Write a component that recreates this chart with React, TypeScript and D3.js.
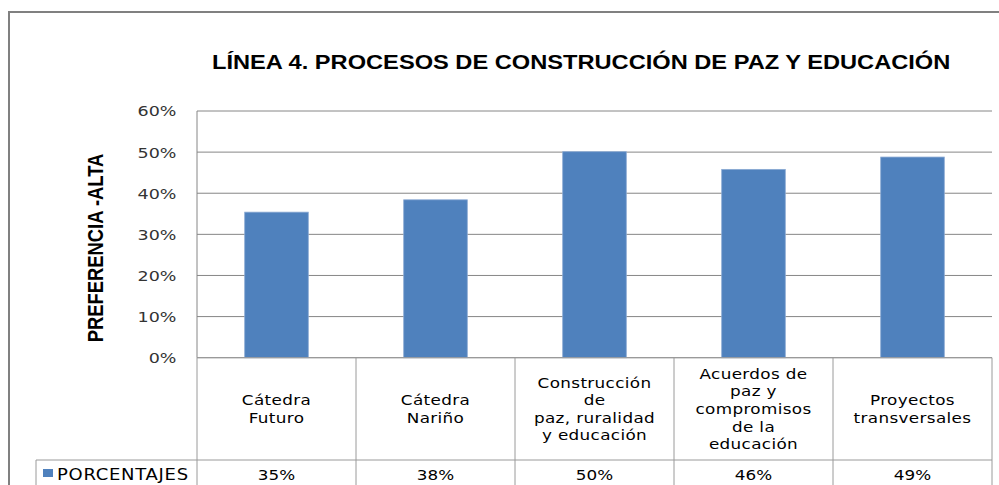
import React, { useEffect, useRef } from 'react';
import * as d3 from 'd3';

const title = 'LÍNEA 4. PROCESOS DE CONSTRUCCIÓN DE PAZ Y EDUCACIÓN';
const yTitle = 'PREFERENCIA -ALTA';
const seriesName = 'PORCENTAJES';

const categories = [
    'Cátedra Futuro',
    'Cátedra Nariño',
    'Construcción de paz, ruralidad y educación',
    'Acuerdos de paz y compromisos de la educación',
    'Proyectos transversales',
];
// how the labels wrap inside the table cells
const categoryLines = [
    ['Cátedra', 'Futuro'],
    ['Cátedra', 'Nariño'],
    ['Construcción', 'de', 'paz, ruralidad', 'y educación'],
    ['Acuerdos de', 'paz y', 'compromisos', 'de la', 'educación'],
    ['Proyectos', 'transversales'],
];
const porcentajes = [0.354, 0.384, 0.501, 0.458, 0.488];
const yTicks = [0, 0.1, 0.2, 0.3, 0.4, 0.5, 0.6];

export default function App() {
    const chartRef = useRef<SVGSVGElement | null>(null);

    const width = 999;
    const height = 485;
    const plot = { left: 197, right: 992, top: 111, bottom: 357.7 };
    const tableRow = 460; // top of the data row of the table
    const legendLeft = 36;
    const SX = 1.2; // the source picture is stretched sideways, so is the text
    const gridColor = '#868686';
    const tableColor = '#9a9a9a';
    const barColor = '#4f81bd';

    useEffect(() => {
        const svg = d3.select(chartRef.current);
        svg.selectAll('*').remove();

        const xScale = d3.scaleBand<string>()
            .domain(categories)
            .range([plot.left, plot.right])
            .padding(0);
        const yScale = d3.scaleLinear()
            .domain([0, 0.6])
            .range([plot.bottom, plot.top]);
        const pct = d3.format('.0%');
        const stretch = (x: number, y: number) => `translate(${x},${y}) scale(${SX},1)`;

        // outer chart border
        svg.append('rect')
            .attr('x', 9)
            .attr('y', 12)
            .attr('width', 1200)
            .attr('height', 800)
            .attr('fill', '#fff')
            .attr('stroke', '#808080')
            .attr('stroke-width', 2);

        // title
        svg.append('text')
            .attr('transform', stretch(212, 69))
            .attr('font-family', '"Liberation Sans", Arial, sans-serif')
            .attr('font-weight', 'bold')
            .attr('font-size', 19.7)
            .attr('fill', '#000')
            .text(title);

        // gridlines
        svg.append('g')
            .selectAll('line')
            .data(yTicks)
            .enter()
            .append('line')
                .attr('x1', plot.left)
                .attr('x2', plot.right)
                .attr('y1', d => yScale(d))
                .attr('y2', d => yScale(d))
                .attr('stroke', gridColor)
                .attr('stroke-width', 1);

        // y axis line
        svg.append('line')
            .attr('x1', plot.left)
            .attr('x2', plot.left)
            .attr('y1', plot.top)
            .attr('y2', plot.bottom)
            .attr('stroke', gridColor);

        // y tick labels
        svg.append('g')
            .selectAll('text')
            .data(yTicks)
            .enter()
            .append('text')
                .attr('transform', d => stretch(176.5, yScale(d) + 5.4))
                .attr('text-anchor', 'end')
                .attr('font-family', '"DejaVu Sans", Verdana, sans-serif')
                .attr('font-size', 14.6)
                .attr('fill', '#333')
                .text(d => pct(d));

        // y axis title
        svg.append('text')
            .attr('transform', `translate(102.5, 248) scale(${SX},1) rotate(-90)`)
            .attr('text-anchor', 'middle')
            .attr('font-family', '"Liberation Sans", Arial, sans-serif')
            .attr('font-weight', 'bold')
            .attr('font-size', 18.4)
            .attr('fill', '#000')
            .text(yTitle);

        // bars
        const barWidth = xScale.bandwidth() * 0.4;
        svg.append('g')
            .selectAll('rect')
            .data(porcentajes)
            .enter()
            .append('rect')
                .attr('x', (d, i) => (xScale(categories[i]) as number) + (xScale.bandwidth() - barWidth) / 2)
                .attr('y', d => yScale(d))
                .attr('width', barWidth)
                .attr('height', d => yScale(0) - yScale(d))
                .attr('fill', barColor)
                .attr('stroke', '#8aa9d3')
                .attr('stroke-width', 0.8);

        // data table lines
        const table = svg.append('g')
            .attr('stroke', tableColor)
            .attr('stroke-width', 1);
        const edges = categories.map(c => xScale(c) as number).concat(plot.right);
        table.selectAll('line.v')
            .data(edges)
            .enter()
            .append('line')
                .attr('class', 'v')
                .attr('x1', d => d)
                .attr('x2', d => d)
                .attr('y1', plot.bottom)
                .attr('y2', height + 10);
        table.append('line')
            .attr('x1', plot.left)
            .attr('x2', plot.right)
            .attr('y1', plot.bottom)
            .attr('y2', plot.bottom);
        table.append('line')
            .attr('x1', legendLeft)
            .attr('x2', plot.right)
            .attr('y1', tableRow)
            .attr('y2', tableRow);
        table.append('line')
            .attr('x1', legendLeft)
            .attr('x2', legendLeft)
            .attr('y1', tableRow)
            .attr('y2', height + 10);

        // category labels
        const lineHeight = 17.6;
        const catG = svg.append('g')
            .attr('font-family', '"DejaVu Sans", Verdana, sans-serif')
            .attr('font-size', 14)
            .attr('fill', '#000');
        categoryLines.forEach((lines, i) => {
            const cx = (xScale(categories[i]) as number) + xScale.bandwidth() / 2;
            const y0 = 414 - (lines.length - 1) * lineHeight / 2;
            lines.forEach((line, j) => {
                catG.append('text')
                    .attr('transform', stretch(cx, y0 + j * lineHeight))
                    .attr('text-anchor', 'middle')
                    .attr('letter-spacing', 0.3)
                    .text(line);
            });
        });

        // legend key + values row
        svg.append('rect')
            .attr('x', 43)
            .attr('y', 469)
            .attr('width', 10)
            .attr('height', 8)
            .attr('fill', barColor);
        svg.append('text')
            .attr('transform', stretch(57, 479.5))
            .attr('font-family', '"DejaVu Sans", Verdana, sans-serif')
            .attr('font-size', 15)
            .attr('letter-spacing', 0.6)
            .attr('fill', '#000')
            .text(seriesName);

        svg.append('g')
            .selectAll('text')
            .data(porcentajes)
            .enter()
            .append('text')
                .attr('transform', (d, i) => stretch((xScale(categories[i]) as number) + xScale.bandwidth() / 2, 480))
                .attr('text-anchor', 'middle')
                .attr('font-family', '"DejaVu Sans", Verdana, sans-serif')
                .attr('font-size', 14)
                .attr('fill', '#000')
                .text(d => pct(d));
    });

    return (
        <div style={{ position: 'absolute', left: 0, top: 0 }}>
            <svg ref={chartRef} width={width} height={height} style={{ display: 'block', background: '#fff' }} />
        </div>
    );
}
